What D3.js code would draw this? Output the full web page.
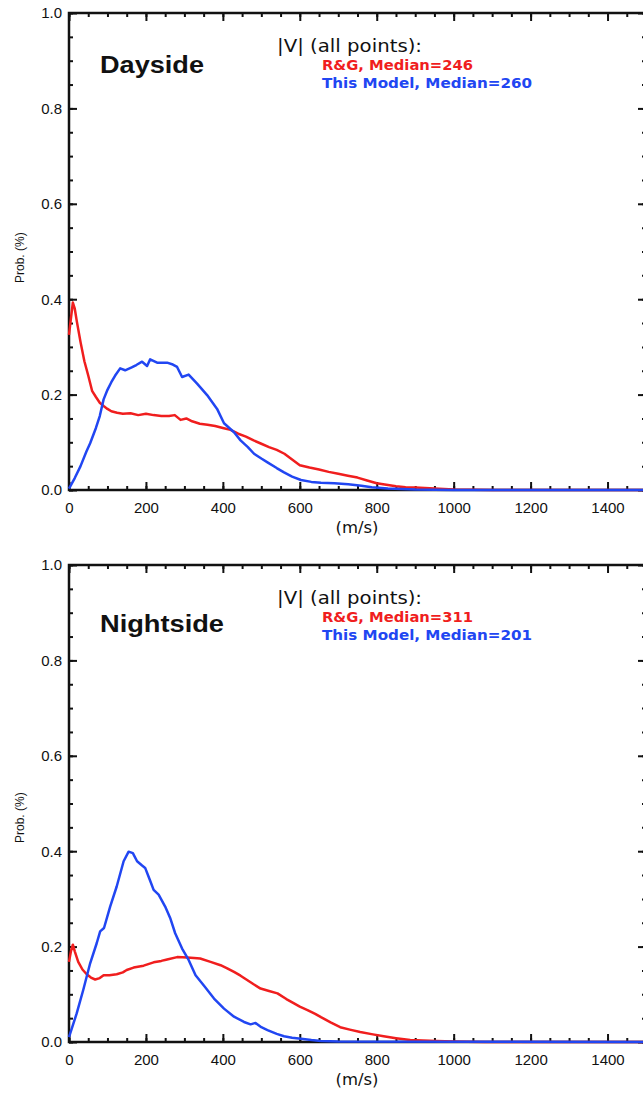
<!DOCTYPE html>
<html>
<head>
<meta charset="utf-8">
<script src="https://cdn.jsdelivr.net/npm/d3@7"></script>
<style>
    body { margin: 0; background: #fff; }
    svg { display: block; }
    .tick text { font-family: "Liberation Sans", Arial, sans-serif; font-size: 15px; fill: #111; }
</style>
</head>
<body>
<div id="chartDiv"></div>
<script>

// speeds (m/s) and probabilities (%)
var daySpeedsRG = [0, 5, 10, 15, 20, 30, 40, 50, 60, 70, 80, 90, 100, 110, 125, 140, 160, 180, 200, 220,
    240, 260, 275, 290, 305, 320, 340, 360, 380, 400, 420, 440, 460, 480, 500, 520, 540, 560, 580, 600,
    625, 650, 675, 700, 725, 750, 775, 800, 825, 850, 875, 900, 950, 1000, 1050, 1100, 1500];
var dayProbRG = [0.325, 0.36, 0.393, 0.38, 0.355, 0.31, 0.27, 0.24, 0.208, 0.195, 0.183, 0.176, 0.17, 0.165, 0.162, 0.16, 0.161, 0.157, 0.16, 0.157,
    0.155, 0.155, 0.157, 0.147, 0.15, 0.144, 0.139, 0.137, 0.134, 0.13, 0.126, 0.118, 0.112, 0.104, 0.097, 0.09, 0.084, 0.076, 0.064, 0.052,
    0.047, 0.043, 0.038, 0.034, 0.03, 0.026, 0.02, 0.014, 0.011, 0.008, 0.006, 0.005, 0.003, 0.001, 0.0005, 0, 0];

var daySpeedsModel = [0, 15, 30, 45, 55, 70, 80, 90, 100, 110, 120, 133, 146, 163, 175, 190, 203, 211, 229, 255,
    270, 281, 294, 311, 333, 359, 385, 403, 429, 446, 465, 481, 500, 516, 540, 559, 580, 603, 630, 655,
    690, 726, 760, 787, 829, 900, 1000, 1500];
var dayProbModel = [0.003, 0.025, 0.05, 0.08, 0.098, 0.13, 0.155, 0.19, 0.21, 0.226, 0.24, 0.255, 0.251, 0.257, 0.262, 0.269, 0.26, 0.274, 0.267, 0.267,
    0.263, 0.258, 0.237, 0.242, 0.223, 0.199, 0.17, 0.14, 0.121, 0.104, 0.09, 0.076, 0.066, 0.058, 0.046, 0.037, 0.028, 0.021, 0.017, 0.015,
    0.014, 0.012, 0.009, 0.006, 0.003, 0.001, 0, 0];

var nightSpeedsRG = [0, 5, 10, 15, 24, 35, 46, 57, 68, 80, 90, 105, 124, 140, 150, 168, 194, 220, 240, 255,
    281, 307, 325, 341, 368, 394, 410, 429, 446, 463, 480, 498, 520, 542, 565, 585, 600, 620, 640, 655,
    680, 705, 730, 757, 790, 818, 850, 887, 920, 955, 1000, 1034, 1080, 1500];
var nightProbRG = [0.168, 0.19, 0.204, 0.19, 0.168, 0.152, 0.142, 0.135, 0.131, 0.134, 0.14, 0.14, 0.142, 0.146, 0.151, 0.156, 0.16, 0.167, 0.17, 0.173,
    0.178, 0.177, 0.176, 0.175, 0.168, 0.161, 0.155, 0.147, 0.139, 0.13, 0.121, 0.112, 0.107, 0.102, 0.09, 0.081, 0.074, 0.067, 0.059, 0.052,
    0.041, 0.031, 0.026, 0.021, 0.016, 0.012, 0.008, 0.004, 0.003, 0.002, 0.001, 0.0005, 0, 0];

var nightSpeedsModel = [0, 20, 37, 55, 72, 81, 91, 107, 124, 142, 155, 166, 177, 190, 198, 210, 220, 233, 250, 263,
    276, 294, 311, 329, 350, 377, 403, 429, 455, 472, 485, 500, 516, 540, 559, 580, 603, 630, 655, 700, 1500];
var nightProbModel = [0.01, 0.06, 0.109, 0.165, 0.207, 0.232, 0.239, 0.284, 0.326, 0.379, 0.399, 0.396, 0.379, 0.37, 0.365, 0.34, 0.319, 0.309, 0.284, 0.26,
    0.228, 0.196, 0.172, 0.14, 0.119, 0.091, 0.07, 0.053, 0.042, 0.037, 0.04, 0.031, 0.025, 0.017, 0.012, 0.009, 0.007, 0.004, 0.002, 0.001, 0];

var xMajorTicks = [0, 200, 400, 600, 800, 1000, 1200, 1400];
var yMajorTicks = [0.0, 0.2, 0.4, 0.6, 0.8, 1.0];
var panelTitles = ["Dayside", "Nightside"];
var mediansRG = [246, 311];
var mediansModel = [260, 201];

var colorRG = "#f01e1e";
var colorModel = "#2146f2";

var width = 643, height = 1094;

var svg = d3.select("#chartDiv").append("svg")
    .attr("width", width)
    .attr("height", height);

function drawPanel(options) {

    var top = options.top, bottom = options.bottom;
    var left = 69, right = 646;

    var x = d3.scaleLinear().domain([0, 1500]).range([left, right]);
    var y = d3.scaleLinear().domain([0, 1]).range([bottom, top]);

    var xMinor = d3.range(0, 1501, 50);
    var yMinor = d3.range(0, 1.0001, 0.05);

    var g = svg.append("g");

    // minor ticks, all four sides
    g.append("g").attr("transform", "translate(0," + bottom + ")")
        .call(d3.axisBottom(x).tickValues(xMinor).tickSizeInner(-4).tickSizeOuter(0).tickFormat(""));
    g.append("g").attr("transform", "translate(0," + top + ")")
        .call(d3.axisTop(x).tickValues(xMinor).tickSizeInner(-4).tickSizeOuter(0).tickFormat(""));
    g.append("g").attr("transform", "translate(" + left + ",0)")
        .call(d3.axisLeft(y).tickValues(yMinor).tickSizeInner(-4).tickSizeOuter(0).tickFormat(""));
    g.append("g").attr("transform", "translate(" + right + ",0)")
        .call(d3.axisRight(y).tickValues(yMinor).tickSizeInner(-4).tickSizeOuter(0).tickFormat(""));

    // major ticks
    g.append("g").attr("class", "x axis").attr("transform", "translate(0," + bottom + ")")
        .call(d3.axisBottom(x).tickValues(xMajorTicks).tickSizeInner(-8).tickSizeOuter(0)
            .tickPadding(12).tickFormat(d3.format("d")));
    g.append("g").attr("transform", "translate(0," + top + ")")
        .call(d3.axisTop(x).tickValues(xMajorTicks.concat([1500])).tickSizeInner(-8).tickSizeOuter(0).tickFormat(""));
    g.append("g").attr("class", "y axis").attr("transform", "translate(" + left + ",0)")
        .call(d3.axisLeft(y).tickValues(yMajorTicks).tickSizeInner(-8).tickSizeOuter(0)
            .tickPadding(7).tickFormat(d3.format(".1f")));
    g.append("g").attr("transform", "translate(" + right + ",0)")
        .call(d3.axisRight(y).tickValues(yMajorTicks).tickSizeInner(-8).tickSizeOuter(0).tickFormat(""));

    g.selectAll(".domain").remove();
    g.selectAll(".tick line").style("stroke", "#111").style("stroke-width", 2);

    // frame
    g.append("rect")
        .attr("x", left).attr("y", top)
        .attr("width", right - left).attr("height", bottom - top)
        .style("fill", "none")
        .style("stroke", "#111")
        .style("stroke-width", 2.5);

    var line = d3.line()
        .x(function (d) { return x(d[0]); })
        .y(function (d) { return y(d[1]); });

    g.append("path")
        .datum(d3.zip(options.speedsRG, options.probRG))
        .attr("d", line)
        .style("fill", "none")
        .style("stroke", colorRG)
        .style("stroke-width", 2.5)
        .style("stroke-linejoin", "round");

    g.append("path")
        .datum(d3.zip(options.speedsModel, options.probModel))
        .attr("d", line)
        .style("fill", "none")
        .style("stroke", colorModel)
        .style("stroke-width", 2.5)
        .style("stroke-linejoin", "round");

    // labels
    g.append("text")
        .attr("x", 100)
        .attr("y", top + options.titleDy)
        .attr("textLength", options.titleWidth)
        .attr("lengthAdjust", "spacingAndGlyphs")
        .style("font-family", "'Liberation Sans', Arial, sans-serif")
        .style("font-weight", "bold")
        .style("font-size", "23px")
        .style("fill", "#111")
        .text(options.title);

    g.append("text")
        .attr("x", 277)
        .attr("y", top + 39)
        .attr("textLength", 145)
        .attr("lengthAdjust", "spacingAndGlyphs")
        .style("font-family", "'DejaVu Sans', sans-serif")
        .style("font-size", "18px")
        .style("fill", "#111")
        .text("|V| (all points):");

    g.append("text")
        .attr("x", 322)
        .attr("y", top + 56.5)
        .attr("textLength", 151)
        .attr("lengthAdjust", "spacingAndGlyphs")
        .style("font-family", "'DejaVu Sans', sans-serif")
        .style("font-weight", "bold")
        .style("font-size", "14.5px")
        .style("fill", colorRG)
        .text("R&G, Median=" + options.medianRG);

    g.append("text")
        .attr("x", 322)
        .attr("y", top + 75)
        .attr("textLength", 210)
        .attr("lengthAdjust", "spacingAndGlyphs")
        .style("font-family", "'DejaVu Sans', sans-serif")
        .style("font-weight", "bold")
        .style("font-size", "14.5px")
        .style("fill", colorModel)
        .text("This Model, Median=" + options.medianModel);

    g.append("text")
        .attr("x", 357)
        .attr("y", bottom + 43)
        .attr("textLength", 43)
        .attr("lengthAdjust", "spacingAndGlyphs")
        .style("text-anchor", "middle")
        .style("font-family", "'DejaVu Sans', sans-serif")
        .style("font-size", "15px")
        .style("fill", "#111")
        .text("(m/s)");

    g.append("text")
        .attr("transform", "translate(24," + options.yLabelY + ") rotate(-90)")
        .style("font-family", "'Liberation Sans', Arial, sans-serif")
        .style("font-size", "12px")
        .style("fill", "#111")
        .text("Prob. (%)");
}

drawPanel({
    top: 13, bottom: 490,
    title: panelTitles[0], titleDy: 60, titleWidth: 104,
    speedsRG: daySpeedsRG, probRG: dayProbRG,
    speedsModel: daySpeedsModel, probModel: dayProbModel,
    medianRG: mediansRG[0], medianModel: mediansModel[0],
    yLabelY: 283
});

drawPanel({
    top: 565, bottom: 1042,
    title: panelTitles[1], titleDy: 67, titleWidth: 124,
    speedsRG: nightSpeedsRG, probRG: nightProbRG,
    speedsModel: nightSpeedsModel, probModel: nightProbModel,
    medianRG: mediansRG[1], medianModel: mediansModel[1],
    yLabelY: 843
});

</script>
</body>
</html>
